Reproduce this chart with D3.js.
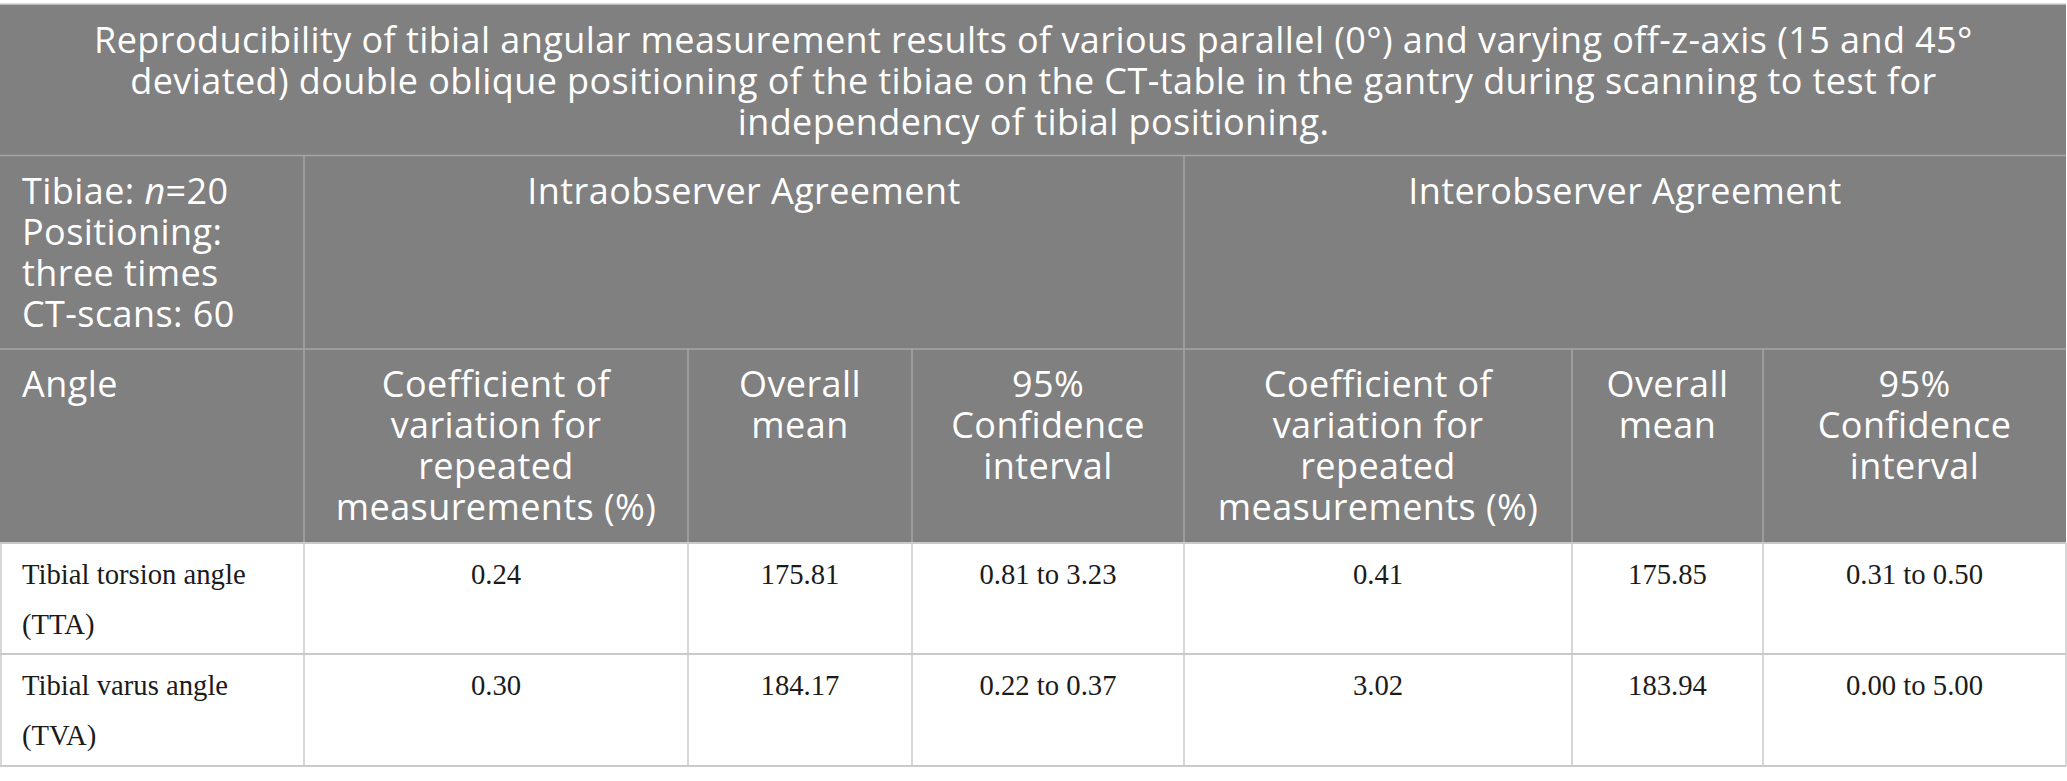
<!DOCTYPE html>
<html><head><meta charset="utf-8">
<script src="https://cdn.jsdelivr.net/npm/d3@7"></script>
<style>body{margin:0;background:#fff}</style>
</head><body>
<svg id="c" width="2067" height="781"></svg>
<script>
// ---------- data ----------
const titleLines = [
  "Reproducibility of tibial angular measurement results of various parallel (0°) and varying off-z-axis (15 and 45°",
  "deviated) double oblique positioning of the tibiae on the CT-table in the gantry during scanning to test for",
  "independency of tibial positioning."
];
const studyInfo = [
  [{t:"Tibiae: "},{t:"n",i:true},{t:"=20"}],
  [{t:"Positioning:"}],
  [{t:"three times"}],
  [{t:"CT-scans: 60"}]
];
const groups = ["Intraobserver Agreement", "Interobserver Agreement"];
const firstColHeader = "Angle";
const measureHeaders = [
  ["Coefficient of", "variation for", "repeated", "measurements (%)"],
  ["Overall", "mean"],
  ["95%", "Confidence", "interval"]
];
const angles = [["Tibial torsion angle", "(TTA)"], ["Tibial varus angle", "(TVA)"]];
const intraCV   = ["0.24", "0.30"];
const intraMean = ["175.81", "184.17"];
const intraCI   = ["0.81 to 3.23", "0.22 to 0.37"];
const interCV   = ["0.41", "3.02"];
const interMean = ["175.85", "183.94"];
const interCI   = ["0.31 to 0.50", "0.00 to 5.00"];

// ---------- layout ----------
const W = 2067;
const colKeys = ["angle","intraCV","intraMean","intraCI","interCV","interMean","interCI","end"];
const colX = d3.scaleOrdinal().domain(colKeys).range([0, 304, 688, 912, 1184, 1572, 1763, 2066]);
const rowKeys = ["top","title","group","head","r0","r1"];
const rowY = d3.scaleOrdinal().domain(rowKeys).range([4, 155.5, 349, 543, 654, 766]);
const lineH = 41, bodyLineH = 50;
const headFill = "#7f807f", headLine = "#a5a6a5", bodyLine = "#c9c9c9";
const headFont = "'Open Sans', sans-serif", headSize = 36, headLS = "0.42px";
const bodyFont = "'Liberation Serif', 'Times New Roman', serif", bodySize = 28.7;

const svg = d3.select("#c");
const cx = k => (colX(k) + colX(colKeys[colKeys.indexOf(k)+1])) / 2;

// header background
svg.append("rect").attr("x", colX("angle")).attr("y", rowY("top"))
  .attr("width", colX("end") - colX("angle")).attr("height", rowY("head") - rowY("top"))
  .attr("fill", headFill);
// top border
svg.append("line").attr("x1", 0).attr("x2", colX("end")).attr("y1", rowY("top")).attr("y2", rowY("top"))
  .attr("stroke", "#cfcfcf").attr("stroke-width", 1.5);

// header lines
const hLinesHead = [rowY("title"), rowY("group")];
svg.selectAll(".hh").data(hLinesHead).join("line")
  .attr("x1", 0).attr("x2", colX("end")).attr("y1", d => d).attr("y2", d => d)
  .attr("stroke", headLine).attr("stroke-width", 1.5);
const vHead = [
  {k:"intraCV", y1: rowY("title")}, {k:"interCV", y1: rowY("title")},
  {k:"intraMean", y1: rowY("group")}, {k:"intraCI", y1: rowY("group")},
  {k:"interMean", y1: rowY("group")}, {k:"interCI", y1: rowY("group")}
];
svg.selectAll(".vh").data(vHead).join("line")
  .attr("x1", d => colX(d.k)).attr("x2", d => colX(d.k))
  .attr("y1", d => d.y1).attr("y2", rowY("head"))
  .attr("stroke", headLine).attr("stroke-width", 1.5);

// body lines
svg.selectAll(".hb").data([rowY("head"), rowY("r0"), rowY("r1")]).join("line")
  .attr("x1", 0).attr("x2", colX("end")).attr("y1", d => d).attr("y2", d => d)
  .attr("stroke", bodyLine).attr("stroke-width", 2);
svg.selectAll(".vb").data(colKeys).join("line")
  .attr("x1", d => colX(d) + (d === "angle" ? 1 : 0)).attr("x2", d => colX(d) + (d === "angle" ? 1 : 0))
  .attr("y1", rowY("head")).attr("y2", rowY("r1"))
  .attr("stroke", bodyLine).attr("stroke-width", 1.5);

// text helpers
function headText(sel) {
  return sel.attr("fill", "#fff").style("font-family", headFont)
    .style("font-size", headSize + "px").style("letter-spacing", headLS);
}

// title
headText(svg.append("g").selectAll("text").data(titleLines).join("text")
  .attr("x", W / 2).attr("y", (d, i) => 53 + i * lineH)
  .attr("text-anchor", "middle").text(d => d));

// study info
const info = headText(svg.append("g").selectAll("text").data(studyInfo).join("text")
  .attr("x", 22).attr("y", (d, i) => 204 + i * lineH));
info.selectAll("tspan").data(d => d).join("tspan")
  .style("font-style", d => d.i ? "italic" : "normal").text(d => d.t);

// group headers
headText(svg.append("g").selectAll("text").data(groups).join("text")
  .attr("x", (d, i) => (colX(i ? "interCV" : "intraCV") + colX(i ? "end" : "interCV")) / 2)
  .attr("y", 204).attr("text-anchor", "middle").text(d => d));

// column headers
headText(svg.append("text").attr("x", 22).attr("y", 397).text(firstColHeader));
const colHeadData = [];
["intra", "inter"].forEach(g => {
  ["CV", "Mean", "CI"].forEach((m, mi) => {
    colHeadData.push({k: g + m, lines: measureHeaders[mi]});
  });
});
const ch = svg.append("g").selectAll("text").data(colHeadData).join("text")
  .attr("text-anchor", "middle");
headText(ch);
ch.selectAll("tspan").data(d => d.lines.map(l => ({l, x: cx(d.k)}))).join("tspan")
  .attr("x", d => d.x).attr("y", (d, i) => 397 + i * lineH).text(d => d.l);

// body
const rowsData = angles.map((a, i) => ({
  key: "r" + i, angle: a,
  vals: [
    {k:"intraCV", v:intraCV[i]}, {k:"intraMean", v:intraMean[i]}, {k:"intraCI", v:intraCI[i]},
    {k:"interCV", v:interCV[i]}, {k:"interMean", v:interMean[i]}, {k:"interCI", v:interCI[i]}
  ]
}));
const prevRow = {r0: "head", r1: "r0"};
const rg = svg.append("g").selectAll("g").data(rowsData).join("g")
  .attr("transform", d => `translate(0,${rowY(prevRow[d.key]) + 41})`)
  .style("font-family", bodyFont).style("font-size", bodySize + "px").attr("fill", "#1b1b1b");
rg.selectAll("text.a").data(d => d.angle).join("text").attr("class", "a")
  .attr("x", 22).attr("y", (d, i) => i * bodyLineH).text(d => d);
rg.selectAll("text.v").data(d => d.vals).join("text").attr("class", "v")
  .attr("x", d => cx(d.k)).attr("y", 0).attr("text-anchor", "middle").text(d => d.v);
</script>
</body></html>
